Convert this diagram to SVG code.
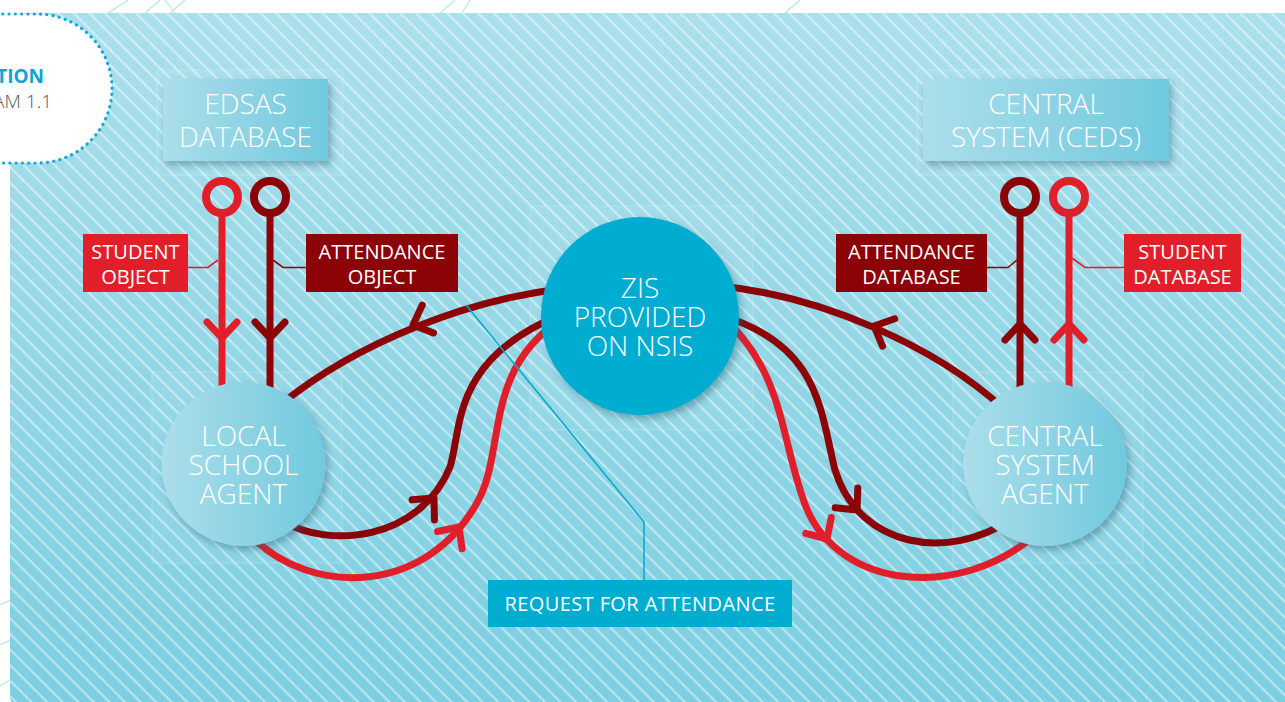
<svg xmlns="http://www.w3.org/2000/svg" width="1285" height="702" viewBox="0 0 1285 702">
<style>
.big{font-family:"Open Sans","Liberation Sans",sans-serif;font-weight:300;font-size:28px;fill:#ffffff;text-anchor:middle}
.lbl{font-family:"Open Sans","Liberation Sans",sans-serif;font-weight:400;font-size:20px;fill:#ffffff;text-anchor:middle}
.red{stroke:#e11f2a}
.dark{stroke:#8b0207}
.conn{fill:none;stroke-width:7;stroke-linecap:round;stroke-linejoin:round}
.chev{fill:none;stroke-width:7;stroke-linecap:round;stroke-linejoin:round}
.pin{fill:none;stroke-width:8}
.lead{fill:none;stroke-width:1.6}
.ghost{fill:#ffffff;fill-opacity:0.05;stroke:#ffffff;stroke-opacity:0.22;stroke-width:1}
.deco{fill:none;stroke:#b8e3ef;stroke-width:1.2}
</style>
<defs>
<linearGradient id="bg" x1="0" y1="0" x2="0" y2="1"><stop offset="0" stop-color="#abdfeb"/><stop offset="1" stop-color="#7bcee1"/></linearGradient>
<pattern id="stripes" patternUnits="userSpaceOnUse" width="11" height="11" patternTransform="rotate(45)"><rect x="0" y="0" width="11" height="2.2" fill="#ffffff" fill-opacity="0.45"/></pattern>
<linearGradient id="nodeGrad" x1="0" y1="0" x2="1" y2="0"><stop offset="0" stop-color="#acdeea"/><stop offset="1" stop-color="#70c9de"/></linearGradient>
<filter id="shadow" x="-20%" y="-20%" width="150%" height="150%"><feDropShadow dx="3" dy="4" stdDeviation="3.5" flood-color="#2a6475" flood-opacity="0.45"/></filter>
<path id="chev" d="M -16 -15 L 0 0 L -16 15"/>
</defs>

<rect width="1285" height="702" fill="#ffffff"/>
<g id="decoration">
<path class="deco" d="M 108 13 L 128 0 M 145 13 L 160 0 M 170 13 L 185 0 M 175 13 L 165 0 M 440 13 L 455 0 M 462 13 L 470 0 M 785 13 L 800 0 M 10 600 L 0 605 M 10 640 L 0 645 M 10 680 L 0 686"/>
</g>
<g id="panel">
<rect x="10" y="13" width="1290" height="700" rx="18" fill="url(#bg)"/>
<rect x="10" y="13" width="1290" height="700" rx="18" fill="url(#stripes)"/>
<rect class="ghost" x="157" y="70" width="186" height="105"/>
<rect class="ghost" x="917" y="70" width="266" height="105"/>
<rect class="ghost" x="152" y="372" width="190" height="191"/>
<rect class="ghost" x="530" y="206" width="223" height="224"/>
<rect class="ghost" x="953" y="372" width="190" height="191"/>
</g>
<g id="title">
<rect x="-160" y="14" width="272" height="149" rx="74.5" fill="#ffffff" stroke="#12a8d9" stroke-width="3.2" stroke-linecap="round" stroke-dasharray="0.1 6.2"/>
<text x="44" y="83" font-family="'Open Sans','Liberation Sans',sans-serif" font-weight="700" font-size="19" fill="#0ba6d3" text-anchor="end">TION</text>
<text x="52" y="108" font-family="'Open Sans','Liberation Sans',sans-serif" font-weight="300" font-size="19" fill="#555555" text-anchor="end">AM 1.1</text>
</g>

<g id="connectors">
<line class="conn red" x1="222" y1="213" x2="222" y2="400"/>
<line class="conn dark" x1="270" y1="213" x2="270" y2="400"/>
<line class="conn dark" x1="1020" y1="213" x2="1020" y2="400"/>
<line class="conn red" x1="1069" y1="213" x2="1069" y2="400"/>
<use href="#chev" class="chev red" transform="translate(222 338) rotate(90)"/>
<use href="#chev" class="chev dark" transform="translate(270 338) rotate(90)"/>
<use href="#chev" class="chev dark" transform="translate(1020 324) rotate(-90)"/>
<use href="#chev" class="chev red" transform="translate(1069 324) rotate(-90)"/>

<path class="conn dark" d="M 560 289 C 470 300, 360 340, 280 405"/>
<use href="#chev" class="chev dark" transform="translate(413 325) rotate(158)"/>
<path class="conn dark" d="M 280 520 C 330 550, 420 540, 450 467 C 462 430, 450 360, 560 315"/>
<use href="#chev" class="chev dark" transform="translate(434 498) rotate(-48)"/>
<path class="conn red" d="M 250 535 C 310 598, 430 596, 480 497 C 505 445, 485 370, 560 320"/>
<use href="#chev" class="chev red" transform="translate(459 527) rotate(-55)"/>

<path class="conn dark" d="M 720 286 C 820 296, 935 345, 1005 410"/>
<use href="#chev" class="chev dark" transform="translate(874 326) rotate(-156)"/>
<path class="conn dark" d="M 720 315 C 820 345, 820 410, 835 470 C 860 550, 950 560, 1010 520"/>
<use href="#chev" class="chev dark" transform="translate(857 510) rotate(49)"/>
<path class="conn red" d="M 720 315 C 785 370, 780 440, 806 507 C 840 590, 960 600, 1035 535"/>
<use href="#chev" class="chev red" transform="translate(827 539) rotate(58)"/>

<path class="lead red" d="M 188 267.5 L 208 267.5 L 218 260"/>
<path class="lead dark" d="M 306 267.5 L 283 267.5 L 273 260"/>
<path class="lead dark" d="M 987 267.5 L 1008 267.5 L 1017 260"/>
<path class="lead red" d="M 1124 267.5 L 1085 267.5 L 1072 258"/>
<path fill="none" stroke="#00a9cd" stroke-width="1.5" d="M 466 305 L 644 522 L 644 580"/>
</g>

<g id="edsas">
<rect x="163" y="79" width="165" height="82" fill="url(#nodeGrad)" filter="url(#shadow)"/>
<text class="big" x="245.5" y="113.5">EDSAS</text>
<text class="big" x="245.5" y="147">DATABASE</text>
</g>
<g id="ceds">
<rect x="923" y="79" width="246" height="82" fill="url(#nodeGrad)" filter="url(#shadow)"/>
<text class="big" x="1046" y="113.5">CENTRAL</text>
<text class="big" x="1046" y="147">SYSTEM (CEDS)</text>
</g>
<g id="pins">
<circle class="pin red" cx="222" cy="197" r="16"/>
<circle class="pin dark" cx="270" cy="197" r="16"/>
<circle class="pin dark" cx="1020" cy="197" r="16"/>
<circle class="pin red" cx="1069" cy="197" r="16"/>
</g>
<g id="student-object">
<rect x="83" y="234" width="105" height="58" fill="#e11f2a"/>
<text class="lbl" x="135.5" y="259">STUDENT</text>
<text class="lbl" x="135.5" y="283.5">OBJECT</text>
</g>
<g id="attendance-object">
<rect x="306" y="234" width="152" height="58" fill="#8b0207"/>
<text class="lbl" x="382" y="259">ATTENDANCE</text>
<text class="lbl" x="382" y="283.5">OBJECT</text>
</g>
<g id="attendance-database">
<rect x="836" y="234" width="151" height="58" fill="#8b0207"/>
<text class="lbl" x="911.5" y="259">ATTENDANCE</text>
<text class="lbl" x="911.5" y="283.5">DATABASE</text>
</g>
<g id="student-database">
<rect x="1124" y="234" width="117" height="58" fill="#e11f2a"/>
<text class="lbl" x="1182.5" y="259">STUDENT</text>
<text class="lbl" x="1182.5" y="283.5">DATABASE</text>
</g>
<g id="zis">
<circle cx="640" cy="316" r="99" fill="#00acd0" filter="url(#shadow)"/>
<text class="big" x="640" y="297.5">ZIS</text>
<text class="big" x="640" y="326.5">PROVIDED</text>
<text class="big" x="640" y="355.5">ON NSIS</text>
</g>
<g id="local-school-agent">
<circle cx="243.5" cy="464" r="82" fill="url(#nodeGrad)" filter="url(#shadow)"/>
<text class="big" x="243.5" y="445.5">LOCAL</text>
<text class="big" x="243.5" y="474.5">SCHOOL</text>
<text class="big" x="243.5" y="503.5">AGENT</text>
</g>
<g id="central-system-agent">
<circle cx="1045" cy="464" r="82" fill="url(#nodeGrad)" filter="url(#shadow)"/>
<text class="big" x="1045" y="445.5">CENTRAL</text>
<text class="big" x="1045" y="474.5">SYSTEM</text>
<text class="big" x="1045" y="503.5">AGENT</text>
</g>
<g id="request-for-attendance">
<rect x="488" y="580" width="304" height="47" fill="#00acd0"/>
<text class="lbl" x="640" y="611" letter-spacing="0.4">REQUEST FOR ATTENDANCE</text>
</g>
</svg>
